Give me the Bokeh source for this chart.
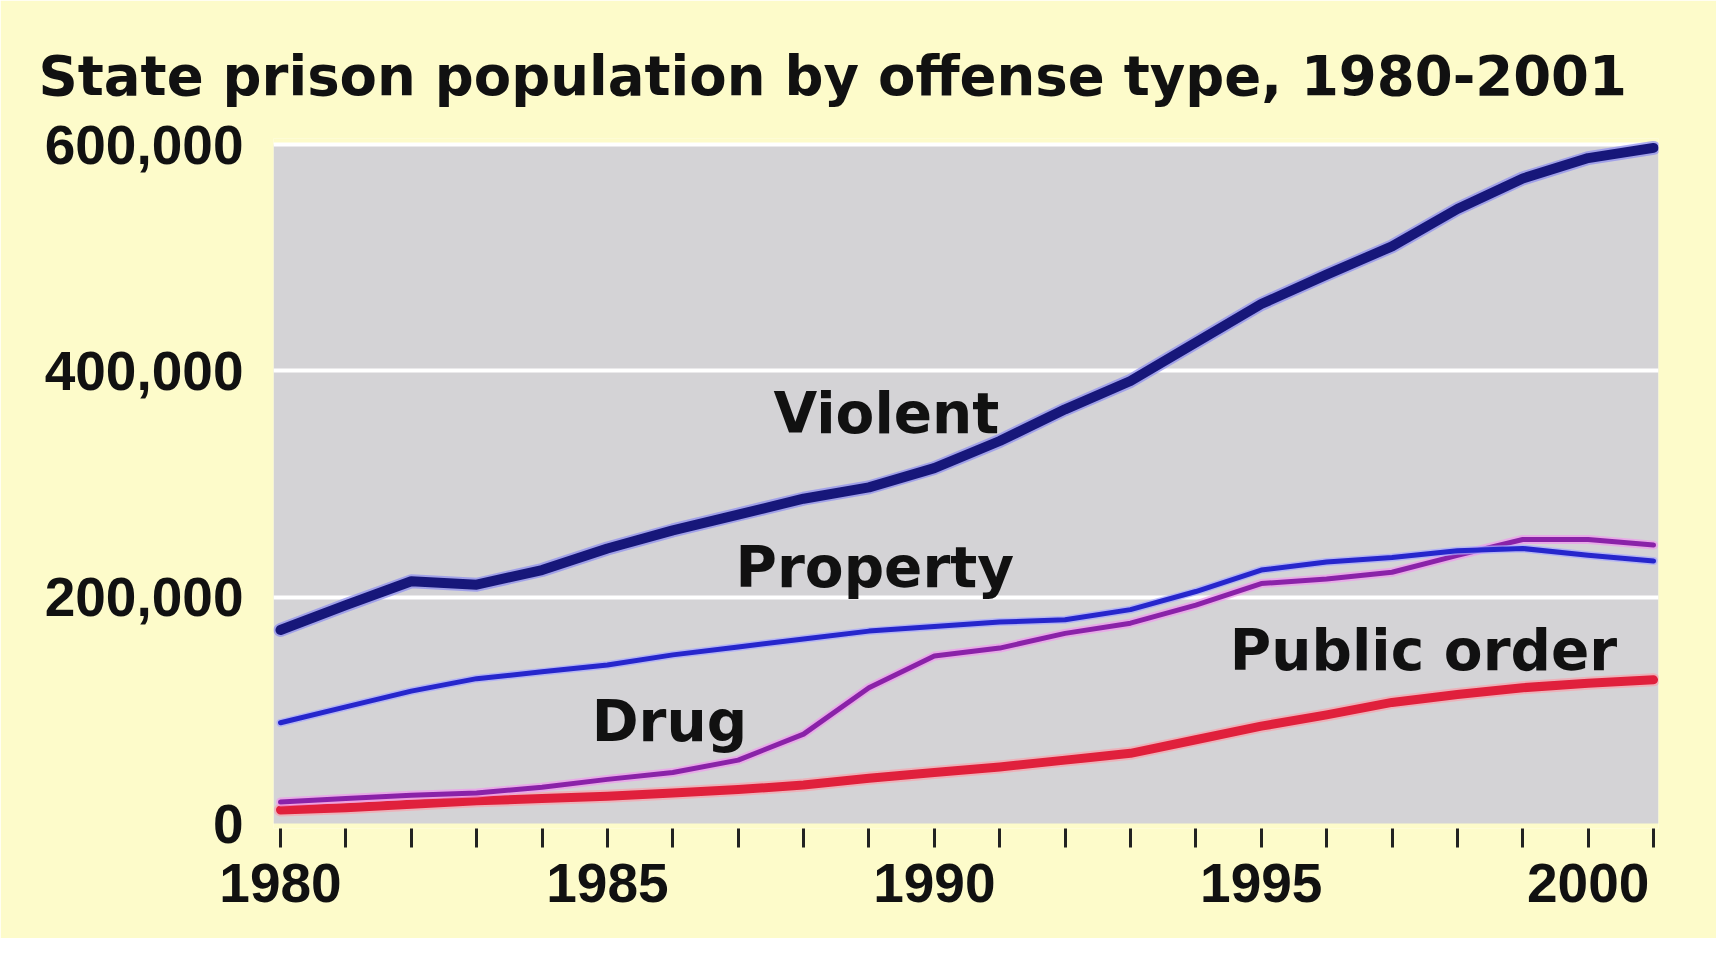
from bokeh.plotting import figure
from bokeh.models import (Range1d, FixedTicker, NumeralTickFormatter, BoxAnnotation, Label)
from bokeh.embed import file_html
from bokeh.resources import INLINE

# ---- data ----
years = list(range(1980, 2002))
violent = [171000, 193000, 214000, 211000, 224000, 243000, 259000, 273000, 287000, 297000,
           314000, 338000, 366000, 391000, 425000, 459000, 485000, 510000, 543000, 570000,
           588000, 597000]
prop = [89000, 103000, 117000, 128000, 134000, 140000, 149000, 156000, 163000, 170000,
        174000, 178000, 180000, 189000, 205000, 224000, 231000, 235000, 241000, 243000,
        237000, 232000]
drug = [19000, 22000, 25000, 27000, 32000, 39000, 45000, 56000, 79000, 120000,
        148000, 155000, 168000, 177000, 193000, 212000, 216000, 222000, 237000, 251000,
        251000, 246000]
public_order = [12000, 14000, 17000, 20000, 22000, 24000, 27000, 30000, 34000, 40000,
                45000, 50000, 56000, 62000, 74000, 86000, 96000, 107000, 114000, 120000,
                124000, 127000]
y_ticks = [0, 200000, 400000, 600000]
x_label_years = [1980, 1985, 1990, 1995, 2000]
title_text = "State prison population by offense type, 1980-2001"

BG = "#fdfbca"
GRAY = "#d4d3d6"

p = figure(width=1716, height=938, output_backend="svg", toolbar_location=None,
           x_range=Range1d(1979.893, 2001.076), y_range=Range1d(-4418, 605302),
           min_border_left=273, min_border_right=58, min_border_top=138, min_border_bottom=110)
p.background_fill_color = BG
p.border_fill_color = BG
p.outline_line_color = None

# title
p.title.text = title_text
p.title.align = "left"
p.title.offset = -235
p.title.standoff = 62
p.title.text_font = "DejaVu Sans"
p.title.text_font_style = "bold"
p.title.text_font_size = "54.5px"
p.title.text_color = "#111111"

# gray plotting area (0 .. 600,000)
p.add_layout(BoxAnnotation(bottom=0, top=600000, fill_color=GRAY, fill_alpha=1.0,
                           line_color=None, level="image"))

# grid
p.xgrid.grid_line_color = None
p.ygrid.ticker = FixedTicker(ticks=[200000, 400000, 600000])
p.ygrid.grid_line_color = "white"
p.ygrid.grid_line_width = 4

# x axis
p.xaxis.ticker = FixedTicker(ticks=years)
p.xaxis.major_label_overrides = {y: (str(y) if y in x_label_years else "") for y in years}
p.xaxis.axis_line_color = None
p.xaxis.major_tick_line_color = "#222222"
p.xaxis.major_tick_line_width = 3
p.xaxis.major_tick_out = 19
p.xaxis.major_tick_in = 0
p.xaxis.minor_tick_line_color = None
p.xaxis.major_label_standoff = 16
p.xaxis.major_label_text_font = "Liberation Sans"
p.xaxis.major_label_text_font_style = "bold"
p.xaxis.major_label_text_font_size = "55px"
p.xaxis.major_label_text_color = "#111111"

# y axis
p.yaxis.ticker = FixedTicker(ticks=y_ticks)
p.yaxis.formatter = NumeralTickFormatter(format="0,0")
p.yaxis.axis_line_color = None
p.yaxis.major_tick_line_color = None
p.yaxis.major_tick_out = 0
p.yaxis.major_tick_in = 0
p.yaxis.minor_tick_line_color = None
p.yaxis.major_label_standoff = 30
p.yaxis.major_label_text_font = "Liberation Sans"
p.yaxis.major_label_text_font_style = "bold"
p.yaxis.major_label_text_font_size = "55px"
p.yaxis.major_label_text_color = "#111111"

# series: halo + core
series = [
    (public_order, "#e0203c", 9, "#f7a3ad", 13),
    (drug, "#8a22a8", 5, "#ef98ee", 9),
    (prop, "#2626cc", 5, "#a6a6ff", 8),
    (violent, "#17177a", 10, "#8c8cf0", 14),
]
for vals, core, cw, halo, hw in series:
    p.line(years, vals, line_color=halo, line_width=hw, line_alpha=0.7, line_join="round", line_cap="round")
    p.line(years, vals, line_color=core, line_width=cw, line_join="round", line_cap="round")

def add_label(x, y, txt, size="56.5px"):
    p.add_layout(Label(x=x, y=y, text=txt, text_font="DejaVu Sans", text_font_style="bold",
                       text_font_size=size, text_color="#111111", text_baseline="alphabetic",
                       text_align="left"))

add_label(1987.54, 362000, "Violent")
add_label(1986.96, 226000, "Property")
add_label(1984.76, 90000, "Drug")
add_label(1994.52, 152500, "Public order")

open("out.html", "w").write(file_html(p, INLINE))
